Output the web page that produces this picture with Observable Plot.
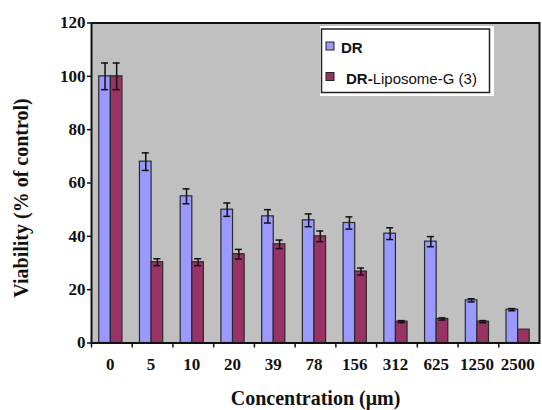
<!DOCTYPE html>
<html>
<head>
<meta charset="utf-8">
<script src="https://cdn.jsdelivr.net/npm/d3@7"></script>
<script src="https://cdn.jsdelivr.net/npm/@observablehq/plot@0.6"></script>
<style>
  html, body { margin: 0; padding: 0; background: #fff; }
</style>
</head>
<body>
<div id="chart"></div>
<script>
const concentrations = ["0","5","10","20","39","78","156","312","625","1250","2500"];
const seriesNames = ["DR", "DR-Liposome-G (3)"];
const seriesColors = ["#9999ff", "#993366"];
const drValues   = [100, 68, 55, 50, 47.5, 46, 45, 41, 38, 16, 12.5];
const drErrors   = [5, 3.3, 2.8, 2.5, 2.5, 2.4, 2.3, 2.2, 1.9, 0.6, 0.4];
const lipoValues = [100, 30.3, 30.3, 33.3, 37, 40, 26.8, 8, 9, 8, 5];
const lipoErrors = [5, 1.3, 1.3, 1.8, 1.6, 2, 1.3, 0.4, 0.4, 0.4, 0];
const yTicks = [0, 20, 40, 60, 80, 100, 120];

const W = 542, H = 410, ML = 91, MR = 3, MT = 22.5, MB = 67.5;
const bw = (W - ML - MR) / concentrations.length;

const drRows = concentrations.map((c, i) => ({conc: c, series: seriesNames[0], value: drValues[i], err: drErrors[i]}));
const lipoRows = concentrations.map((c, i) => ({conc: c, series: seriesNames[1], value: lipoValues[i], err: lipoErrors[i]}));

// bar layout within each concentration band (fractions of band)
const bars = [
  {rows: drRows, a: 0.19, b: 0.475},
  {rows: lipoRows, a: 0.475, b: 0.76}
];
const capHalf = 3.5;

const marks = [Plot.frame({fill: "#c0c0c0"})];
for (const {rows, a, b} of bars) {
  const center = (a + b) / 2 * bw;
  marks.push(Plot.barY(rows, {
    x: "conc", y: "value", fill: "series",
    stroke: "#2a2a2a", strokeWidth: 1.2,
    insetLeft: a * bw, insetRight: (1 - b) * bw
  }));
  const withErr = rows.filter(d => d.err > 0);
  marks.push(Plot.ruleX(withErr, {
    x: "conc", y1: d => d.value - d.err, y2: d => d.value + d.err,
    dx: center - bw / 2, stroke: "#111", strokeWidth: 1.5
  }));
  for (const sign of [-1, 1]) {
    marks.push(Plot.tickY(withErr, {
      x: "conc", y: d => d.value + sign * d.err,
      insetLeft: center - capHalf, insetRight: bw - center - capHalf,
      stroke: "#111", strokeWidth: 1.5
    }));
  }
}
marks.push(
  Plot.frame({stroke: "#111", strokeWidth: 2}),
  Plot.axisY({ticks: yTicks, tickSize: 4, tickPadding: 2, fontSize: 17, fontWeight: "bold", label: null, stroke: "#111", strokeWidth: 1.5}),
  Plot.axisX({tickSize: 5, tickFormat: () => "", dx: -bw / 2, label: null, stroke: "#111", strokeWidth: 1.5}),
  Plot.axisX({tickSize: 0, tickPadding: 14.5, fontSize: 17, fontWeight: "bold", dx: -1.5, label: null}),
  Plot.text(["Concentration (μm)"], {frameAnchor: "bottom", dy: 62, lineAnchor: "bottom", fontSize: 20, fontWeight: "bold"}),
  Plot.text(["Viability (% of control)"], {frameAnchor: "left", rotate: -90, dx: -70, dy: 15, lineAnchor: "middle", textAnchor: "middle", fontSize: 20, fontWeight: "bold"})
);

const plot = Plot.plot({
  width: W, height: H,
  marginLeft: ML, marginRight: MR, marginTop: MT, marginBottom: MB,
  style: {fontFamily: "'Liberation Serif', 'Times New Roman', serif", color: "#111", background: "#fff"},
  x: {domain: concentrations, padding: 0, round: false, axis: null},
  y: {domain: [0, 120], axis: null},
  color: {domain: seriesNames, range: seriesColors},
  marks
});

// Legend overlay inside the plot area
const color = plot.scale("color");
const svg = d3.select(plot);
const lg = svg.append("g").attr("font-family", "'Liberation Sans', Arial, sans-serif").attr("text-anchor", "start");
lg.append("rect").attr("x", 320).attr("y", 26).attr("width", 174).attr("height", 70).attr("fill", "#fff");
lg.append("rect").attr("x", 321.5).attr("y", 29).attr("width", 168).attr("height", 63.5)
  .attr("fill", "none").attr("stroke", "#222").attr("stroke-width", 1.5);
const entries = [
  {name: seriesNames[0], sy: 42, ty: 52.5, tx: 341},
  {name: seriesNames[1], sy: 72.5, ty: 84, tx: 346}
];
for (const e of entries) {
  lg.append("rect").attr("x", 326).attr("y", e.sy).attr("width", 8).attr("height", 8)
    .attr("fill", color.apply(e.name)).attr("stroke", "#222").attr("stroke-width", 1);
}
lg.append("text").attr("x", entries[0].tx).attr("y", entries[0].ty)
  .attr("font-size", 15).attr("font-weight", "bold").attr("fill", "#111").text(seriesNames[0]);
const t2 = lg.append("text").attr("x", entries[1].tx).attr("y", entries[1].ty).attr("fill", "#111");
t2.append("tspan").attr("font-size", 15).attr("font-weight", "bold").text("DR-");
t2.append("tspan").attr("font-size", 15).text("Liposome-G (3)");

document.getElementById("chart").appendChild(plot);
</script>
</body>
</html>
